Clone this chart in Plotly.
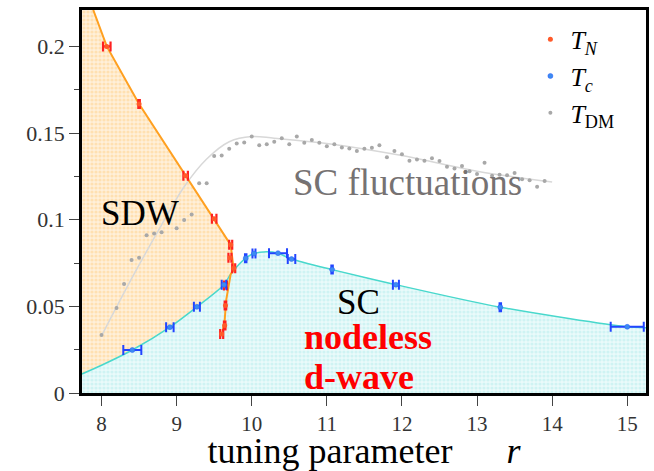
import plotly.graph_objects as go

# ---- data ----
tn_x = [8.07, 8.50, 9.12, 9.50, 9.72, 9.71, 9.76, 9.65, 9.65, 9.64, 9.60]
tn_y = [0.200, 0.1667, 0.1253, 0.1005, 0.0855, 0.078, 0.072, 0.062, 0.0505, 0.039, 0.034]
tn_xerr = [0.05, 0.01, 0.03, 0.03, 0.02, 0.02, 0.02, 0.02, 0.01, 0.01, 0.02]

tc_x = [8.41, 8.91, 9.27, 9.63, 9.92, 10.03, 10.35, 10.53, 11.07, 11.92, 13.31, 15.0]
tc_y = [0.0248, 0.038, 0.0497, 0.0625, 0.0778, 0.0805, 0.0807, 0.0773, 0.0712, 0.0625, 0.0495, 0.0382]
tc_xerr = [0.12, 0.05, 0.04, 0.03, 0.01, 0.02, 0.12, 0.05, 0.01, 0.04, 0.01, 0.22]

tdm_x = [8.0, 8.2, 8.3, 8.4, 8.5, 8.6, 8.7, 8.8, 9.0, 9.1, 9.2, 9.3, 9.4, 9.5, 9.6,
         9.7, 9.8, 9.9, 10.0, 10.1, 10.2, 10.3, 10.4, 10.5, 10.6, 10.7, 10.8, 10.9,
         11.0, 11.1, 11.2, 11.3, 11.4, 11.5, 11.6, 11.7, 11.8, 11.9, 12.0, 12.1,
         12.2, 12.3, 12.4, 12.5, 12.6, 12.7, 12.8, 12.85, 12.9, 13.0, 13.1, 13.2,
         13.3, 13.4, 13.5, 13.6, 13.7, 13.8, 13.9]
tdm_y = [0.0334, 0.049, 0.0629, 0.0767, 0.078, 0.091, 0.092, 0.0928, 0.095, 0.0998,
         0.103, 0.121, 0.121, 0.1367, 0.137, 0.141, 0.144, 0.1445, 0.148, 0.143,
         0.1436, 0.145, 0.147, 0.1436, 0.148, 0.1444, 0.146, 0.1444, 0.1424, 0.1436,
         0.1417, 0.1411, 0.1397, 0.141, 0.1415, 0.143, 0.136, 0.1397, 0.1377, 0.134,
         0.1348, 0.134, 0.1354, 0.1339, 0.1305, 0.1296, 0.131, 0.1277, 0.128, 0.1263,
         0.1328, 0.1253, 0.126, 0.1257, 0.127, 0.1234, 0.1228, 0.119, 0.1223]

# guide curves
tn_line_x = [7.89, 8.07, 8.50, 9.12, 9.50, 9.72, 9.76, 9.72, 9.66, 9.64, 9.61]
tn_line_y = [0.221, 0.200, 0.1667, 0.1253, 0.1005, 0.0855, 0.071, 0.0686, 0.0536, 0.042, 0.0354]
tc_line_x = [7.74, 8.0, 8.41, 8.91, 9.27, 9.63, 9.72, 9.92, 10.03, 10.2, 10.35, 10.53,
             11.07, 11.92, 13.31, 15.0, 15.25]
tc_line_y = [0.011, 0.016, 0.0248, 0.038, 0.0497, 0.0625, 0.0686, 0.0778, 0.0805, 0.0815,
             0.0807, 0.0773, 0.0712, 0.0625, 0.0495, 0.0382, 0.0377]
tdm_line_x = [8.0, 8.4, 8.8, 9.1, 9.4, 9.7, 10.0, 10.3, 11.0, 12.0, 13.0, 14.0]
tdm_line_y = [0.033, 0.066, 0.097, 0.119, 0.135, 0.145, 0.148, 0.147, 0.144, 0.137, 0.128, 0.1217]

x_range = [7.74, 15.25]
y_range = [0, 0.221]
x_ticks = [8, 9, 10, 11, 12, 13, 14, 15]
y_ticks = [0, 0.05, 0.1, 0.15, 0.2]
y_tick_labels = ["0", "0.05", "0.1", "0.15", "0.2"]

SERIF = "Liberation Serif"

fig = go.Figure()

# orange SDW region (left of T_N line); lower part is covered by the SC fill
n_int = 8  # T_N line points down to the intersection with Tc
sdw_x = [x_range[0]] + tn_line_x[:n_int] + [tn_line_x[n_int - 1], x_range[0]]
sdw_y = [y_range[1]] + tn_line_y[:n_int] + [0, 0]
fig.add_trace(go.Scatter(
    x=sdw_x, y=sdw_y, mode="lines", fill="toself", line=dict(width=0),
    fillcolor="#FFE2B8",
    fillpattern=dict(shape=".", fgcolor="#FFCF88", bgcolor="#FFF0DA", size=4, solidity=0.5),
    hoverinfo="skip", showlegend=False))

# cyan SC region
fig.add_trace(go.Scatter(
    x=tc_line_x, y=tc_line_y, mode="lines", fill="tozeroy",
    line=dict(color="#48D8CC", width=1.5, shape="spline", smoothing=0.8),
    fillcolor="#D4F4F2",
    fillpattern=dict(shape=".", fgcolor="#B4ECEC", bgcolor="#EAFAFA", size=4, solidity=0.5),
    hoverinfo="skip", showlegend=False))

# T_DM guide line
fig.add_trace(go.Scatter(
    x=tdm_line_x, y=tdm_line_y, mode="lines",
    line=dict(color="#D8D8D8", width=1.5, shape="spline", smoothing=1.0),
    hoverinfo="skip", showlegend=False))

# T_N guide line
fig.add_trace(go.Scatter(
    x=tn_line_x, y=tn_line_y, mode="lines",
    line=dict(color="#FFA020", width=2),
    hoverinfo="skip", showlegend=False))

# T_N data
fig.add_trace(go.Scatter(
    x=tn_x, y=tn_y, mode="markers", name="<i>T</i><sub><i>N</i></sub>",
    marker=dict(color="#FF5A2A", size=5),
    error_x=dict(type="data", array=tn_xerr, color="#FF2020", thickness=2.2, width=5)))

# T_c data
fig.add_trace(go.Scatter(
    x=tc_x, y=tc_y, mode="markers", name="<i>T</i><sub><i>c</i></sub>",
    marker=dict(color="#3C8CF0", size=5, line=dict(color="#2B5BFF", width=0.5)),
    error_x=dict(type="data", array=tc_xerr, color="#2244FF", thickness=2, width=5)))

# T_DM data
fig.add_trace(go.Scatter(
    x=tdm_x, y=tdm_y, mode="markers", name="<i>T</i><sub>DM</sub>",
    marker=dict(color="#A8A8A8", size=4)))

annotations = [
    dict(x=8.51, y=0.1035, text="SDW", font=dict(family=SERIF, size=35, color="black")),
    dict(x=12.07, y=0.1215, text="SC fluctuations", font=dict(family=SERIF, size=37, color="#767272")),
    dict(x=11.42, y=0.0525, text="SC", font=dict(family=SERIF, size=35, color="black")),
    dict(x=10.67, y=0.0325, text="<b>nodeless</b>", xanchor="left",
         font=dict(family=SERIF, size=36, color="#FF0000")),
    dict(x=10.67, y=0.0095, text="<b>d-wave</b>", xanchor="left",
         font=dict(family=SERIF, size=36, color="#FF0000")),
]
for a in annotations:
    a.setdefault("xanchor", "center")
    a.update(xref="x", yref="y", showarrow=False, yanchor="middle")

fig.update_layout(
    width=654, height=471,
    margin=dict(l=82, r=5, t=10, b=78),
    plot_bgcolor="white", paper_bgcolor="white",
    annotations=annotations,
    showlegend=True,
    legend=dict(x=0.795, y=0.985, xanchor="left", yanchor="top",
                font=dict(family=SERIF, size=26, color="black"),
                bgcolor="rgba(0,0,0,0)", tracegroupgap=0, itemwidth=30),
    xaxis=dict(range=x_range, tickvals=x_ticks, ticks="outside", ticklen=10,
               tickwidth=1, tickcolor="#444", showgrid=False, zeroline=False,
               showline=True, linecolor="black", linewidth=2.5, mirror=True,
               tickfont=dict(family=SERIF, size=21, color="#333"),
               title=dict(text="tuning parameter&nbsp;&nbsp;&nbsp;&nbsp;&nbsp;&nbsp;<i>r</i>",
                          font=dict(family=SERIF, size=36, color="black"), standoff=5)),
    yaxis=dict(range=y_range, tickvals=y_ticks, ticktext=y_tick_labels, ticks="outside",
               ticklen=10, tickwidth=1, tickcolor="#444", showgrid=False, zeroline=False,
               showline=True, linecolor="black", linewidth=2.5, mirror=True,
               tickfont=dict(family=SERIF, size=22, color="#333"),
               minor=dict(tickvals=[0.025, 0.075, 0.125, 0.175], ticks="outside",
                          ticklen=5, tickcolor="#444")),
)

fig.write_html("out.html")
